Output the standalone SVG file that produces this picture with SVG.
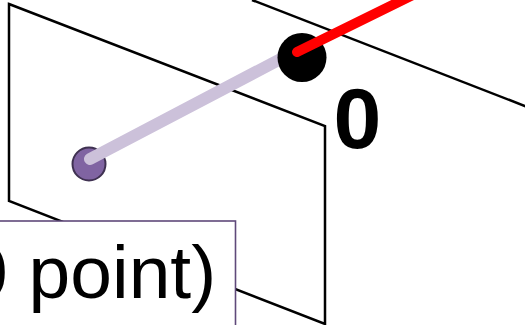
<svg xmlns="http://www.w3.org/2000/svg" width="525" height="325" viewBox="0 0 525 325">
  <style>
    .plane { fill: none; stroke: #000; stroke-width: 2.5; stroke-linejoin: miter; }
    .label { font-family: "Liberation Sans", Arial, sans-serif; fill: #000; }
  </style>
  <rect width="525" height="325" fill="#fff"/>
  <g id="back-plane">
    <line class="plane" x1="252" y1="0" x2="530" y2="108"/>
  </g>
  <g id="front-plane">
    <polygon class="plane" points="9,4 325,126 325,324 9,201"/>
  </g>
  <g id="image-point">
    <circle cx="89" cy="164" r="16.5" fill="#8064A2" stroke="#3F3151" stroke-width="2"/>
  </g>
  <g id="connectors">
    <line x1="90" y1="159" x2="292" y2="53" stroke="#CCC1DA" stroke-width="12" stroke-linecap="round"/>
  </g>
  <g id="origin">
    <circle cx="302" cy="57.5" r="24.5" fill="#000"/>
    <text class="label" x="333.5" y="148" font-size="86" font-weight="bold">0</text>
  </g>
  <g id="ray">
    <line x1="297" y1="52" x2="423" y2="-10" stroke="#FF0000" stroke-width="10" stroke-linecap="round"/>
  </g>
  <g id="label-box">
    <rect x="-10" y="221" width="245.5" height="120" fill="#fff" stroke="#5F497A" stroke-width="1.6"/>
    <text class="label" x="-34" y="298" font-size="75">0 point)</text>
  </g>
</svg>
